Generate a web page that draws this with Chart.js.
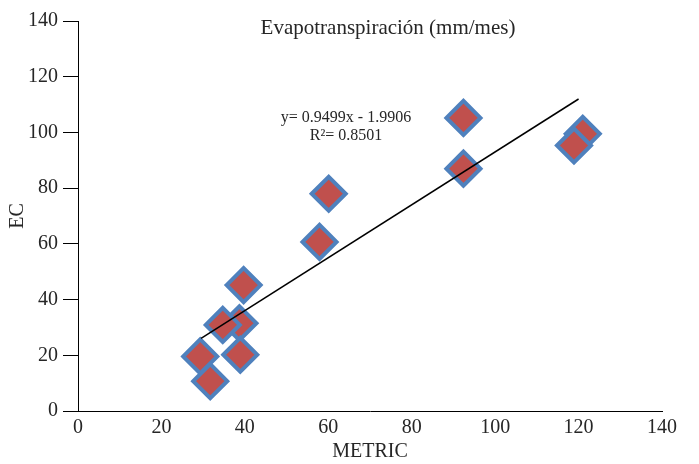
<!DOCTYPE html>
<html>
<head>
<meta charset="utf-8">
<script src="https://cdn.jsdelivr.net/npm/chart.js@4/dist/chart.umd.min.js"></script>
<style>
  html, body { margin: 0; padding: 0; background: #fff; }
  #wrap { width: 699px; height: 464px; }
</style>
</head>
<body>
<div id="wrap"><canvas id="chart" width="699" height="464"></canvas></div>
<script>
// valores (orden de dibujo como en el original)
const metric = [38.7, 34.7, 38.9, 29.3, 31.7, 39.7, 57.9, 60.1, 92.4, 92.4, 121.0, 118.9];
const ec     = [31.5, 30.9, 20.2, 19.6, 10.7, 45.2, 60.7, 78.0, 87.0, 105.2, 99.5, 95.3];
const axisTicks = [0, 20, 40, 60, 80, 100, 120, 140];

// linea de tendencia
const slope = 0.9499;
const intercept = -1.9906;
const r2 = 0.8501;
const trendX = [29.5, 120];

const FONT = "'Liberation Serif', 'Times New Roman', serif";
const TXT = '#262626';

const points = metric.map((x, i) => ({ x: x, y: ec[i] }));
const trend = trendX.map(x => ({ x: x, y: slope * x + intercept }));

const labelsPlugin = {
    id: 'labels',
    afterDraw(chart) {
        const ctx = chart.ctx;
        ctx.save();
        ctx.fillStyle = TXT;
        ctx.textAlign = 'center';
        ctx.textBaseline = 'middle';
        ctx.font = '21px ' + FONT;
        ctx.fillText('Evapotranspiración (mm/mes)', 388, 28);
        ctx.font = '16px ' + FONT;
        ctx.fillText('y= ' + slope + 'x - ' + Math.abs(intercept), 346, 118);
        ctx.fillText('R²= ' + r2, 346, 136);
        ctx.restore();
    }
};

new Chart(document.getElementById('chart'), {
    type: 'scatter',
    data: {
        datasets: [{
            type: 'line',
            data: trend,
            borderColor: '#000',
            borderWidth: 1.5,
            pointRadius: 0,
            fill: false,
            order: 0
        }, {
            data: points,
            pointStyle: 'rectRot',
            pointRadius: 17,
            pointHoverRadius: 17,
            backgroundColor: '#C0504D',
            borderColor: '#4F81BD',
            borderWidth: 4,
            order: 1
        }]
    },
    options: {
        responsive: false,
        animation: false,
        layout: { padding: { top: 20, right: 37, left: 0, bottom: 0 } },
        plugins: {
            legend: { display: false },
            tooltip: { enabled: false }
        },
        scales: {
            x: {
                type: 'linear',
                min: 0,
                max: 140,
                afterBuildTicks: axis => { axis.ticks = axisTicks.map(v => ({ value: v })); },
                afterFit: axis => { axis.height = 53; },
                grid: { drawOnChartArea: false, drawTicks: false },
                border: { color: '#000', width: 1 },
                ticks: { color: TXT, font: { family: FONT, size: 20 }, padding: 5 },
                title: { display: true, text: 'METRIC', color: TXT, font: { family: FONT, size: 20 }, padding: { top: 0, bottom: 0 } }
            },
            y: {
                type: 'linear',
                min: 0,
                max: 140,
                afterBuildTicks: axis => { axis.ticks = axisTicks.map(v => ({ value: v })); },
                afterFit: axis => { axis.width = 78; },
                grid: { drawOnChartArea: false, drawTicks: true, tickLength: 15, color: '#000' },
                border: { color: '#000', width: 1 },
                ticks: { color: TXT, font: { family: FONT, size: 20 }, padding: 5 },
                title: { display: true, text: 'EC', color: TXT, font: { family: FONT, size: 20 }, padding: { top: 6, bottom: 0 } }
            }
        }
    },
    plugins: [labelsPlugin]
});
</script>
</body>
</html>
